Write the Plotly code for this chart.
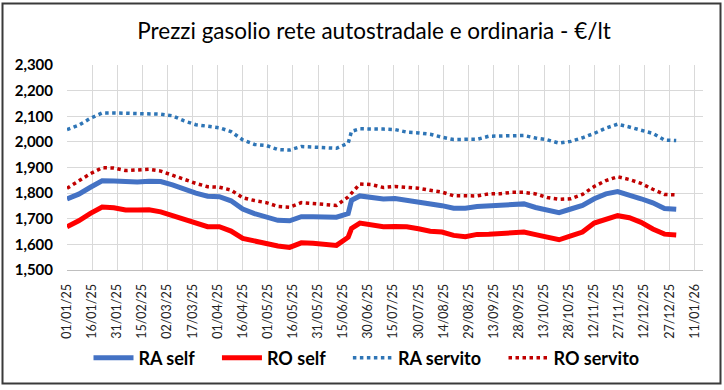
import plotly.graph_objects as go

dates = ["2025-01-01", "2025-01-08", "2025-01-15", "2025-01-22", "2025-01-29",
         "2025-02-05", "2025-02-12", "2025-02-19", "2025-02-26", "2025-03-05",
         "2025-03-12", "2025-03-19", "2025-03-26", "2025-04-02", "2025-04-09",
         "2025-04-16", "2025-04-23", "2025-04-30", "2025-05-07", "2025-05-14",
         "2025-05-21", "2025-05-28", "2025-06-04", "2025-06-11", "2025-06-18",
         "2025-06-20", "2025-06-25", "2025-07-02", "2025-07-09", "2025-07-16",
         "2025-07-23", "2025-07-30", "2025-08-06", "2025-08-13", "2025-08-20",
         "2025-08-27", "2025-09-03", "2025-09-10", "2025-09-17", "2025-09-24",
         "2025-10-01", "2025-10-08", "2025-10-15", "2025-10-22", "2025-10-29",
         "2025-11-05", "2025-11-12", "2025-11-19", "2025-11-26", "2025-12-03",
         "2025-12-10", "2025-12-17", "2025-12-24", "2025-12-31"]

ra_self = [1.777, 1.796, 1.823, 1.848, 1.847, 1.844, 1.843, 1.846, 1.845, 1.832,
           1.814, 1.800, 1.788, 1.786, 1.770, 1.738, 1.720, 1.706, 1.694, 1.692,
           1.708, 1.708, 1.708, 1.706, 1.720, 1.772, 1.789, 1.781, 1.777, 1.779,
           1.773, 1.766, 1.757, 1.751, 1.741, 1.741, 1.748, 1.751, 1.752, 1.755,
           1.758, 1.744, 1.734, 1.724, 1.738, 1.752, 1.778, 1.797, 1.806, 1.794,
           1.778, 1.762, 1.740, 1.737]

ro_self = [1.669, 1.692, 1.721, 1.746, 1.743, 1.734, 1.734, 1.735, 1.727, 1.713,
           1.695, 1.680, 1.669, 1.669, 1.652, 1.623, 1.612, 1.603, 1.594, 1.588,
           1.606, 1.604, 1.598, 1.596, 1.628, 1.662, 1.683, 1.678, 1.669, 1.670,
           1.669, 1.661, 1.651, 1.648, 1.635, 1.630, 1.639, 1.640, 1.642, 1.645,
           1.648, 1.638, 1.630, 1.618, 1.633, 1.648, 1.683, 1.699, 1.712, 1.704,
           1.686, 1.660, 1.640, 1.637]

ra_servito = [2.048, 2.065, 2.092, 2.113, 2.113, 2.112, 2.110, 2.110, 2.108, 2.102,
              2.082, 2.067, 2.060, 2.055, 2.040, 2.008, 1.990, 1.986, 1.970, 1.968,
              1.982, 1.980, 1.979, 1.975, 1.995, 2.041, 2.051, 2.052, 2.050, 2.048,
              2.038, 2.035, 2.030, 2.018, 2.009, 2.010, 2.010, 2.022, 2.022, 2.022,
              2.025, 2.015, 2.008, 1.995, 2.002, 2.016, 2.033, 2.054, 2.069, 2.058,
              2.045, 2.033, 2.007, 2.005]

ro_servito = [1.819, 1.848, 1.876, 1.899, 1.898, 1.888, 1.892, 1.893, 1.886, 1.870,
              1.853, 1.838, 1.825, 1.823, 1.812, 1.782, 1.771, 1.763, 1.748, 1.745,
              1.763, 1.760, 1.756, 1.752, 1.785, 1.800, 1.836, 1.833, 1.822, 1.826,
              1.823, 1.819, 1.811, 1.804, 1.790, 1.789, 1.789, 1.797, 1.798, 1.803,
              1.803, 1.797, 1.783, 1.776, 1.778, 1.795, 1.826, 1.849, 1.864, 1.853,
              1.838, 1.815, 1.795, 1.793]

series = [
    ("RA self", ra_self, "#4472C4", 5, "solid"),
    ("RO self", ro_self, "#FF0000", 5, "solid"),
    ("RA servito", ra_servito, "#2E75B6", 3.5, "3.5px,3.5px"),
    ("RO servito", ro_servito, "#C00000", 3.5, "3.5px,3.5px"),
]

NB = "\u00a0"
fig = go.Figure()
for i, (name, vals, color, width, dash) in enumerate(series):
    label = name + (NB * 4 if i < len(series) - 1 else "")
    fig.add_trace(go.Scatter(x=dates, y=vals, name=label, mode="lines",
                             line=dict(color=color, width=width, dash=dash)))

W, H = 724, 390
L, R, T, B = 67, 21, 65, 120
pw, ph = W - L - R, H - T - B

def px_x(v):
    return (v - L) / pw

def px_y(v):
    return (H - B - v) / ph

fig.add_shape(type="rect", xref="paper", yref="paper",
              x0=px_x(2.5), x1=px_x(720.5), y0=px_y(383.5), y1=px_y(3.5),
              line=dict(color="#3a3a3a", width=2), fillcolor="rgba(0,0,0,0)", layer="above")

fig.update_layout(
    width=W, height=H,
    margin=dict(l=L, r=R, t=T, b=B),
    paper_bgcolor="white", plot_bgcolor="white",
    separators=",.",
    font=dict(family="Lato", color="#000000"),
    title=dict(text="Prezzi gasolio rete autostradale e ordinaria - €/lt",
               x=374 / W, xanchor="center", xref="container",
               y=1 - 31 / H, yanchor="middle", yref="container",
               font=dict(family="Lato", size=22.5, color="#000000")),
    showlegend=True,
    legend=dict(orientation="h", x=px_x(366.5), xanchor="center",
                y=px_y(358), yanchor="middle",
                font=dict(family="Lato", size=18, color="#000000", weight="bold"),
                bgcolor="rgba(0,0,0,0)", itemwidth=40),
    xaxis=dict(type="date", range=["2025-01-01", "2026-01-16"],
               tickmode="linear", tick0="2025-01-01", dtick=15 * 86400000,
               tickformat="%d/%m/%y", tickangle=-90,
               tickfont=dict(family="Lato", size=12.5, color="#222222"),
               showgrid=True, gridcolor="#d9d9d9", gridwidth=1,
               showline=True, linecolor="#bfbfbf", linewidth=1,
               ticks="", ticklabelstandoff=8, zeroline=False),
    yaxis=dict(range=[1.5, 2.3], tickmode="linear", tick0=1.5, dtick=0.1,
               tickformat=".3f",
               tickfont=dict(family="Lato", size=15, color="#000000", weight="bold"),
               showgrid=True, gridcolor="#d9d9d9", gridwidth=1,
               showline=False, ticks="", ticklabelstandoff=13, zeroline=False),
)

fig.write_html("out.html",
               config={"displayModeBar": False},
               post_script="document.body.style.margin='0';document.body.style.padding='0';")
